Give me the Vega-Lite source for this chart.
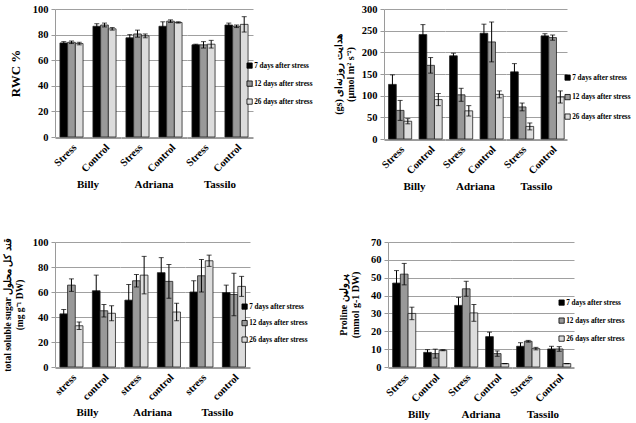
{
  "$schema": "https://vega.github.io/schema/vega-lite/v6.json",
  "padding": {"left": 2, "top": 4, "right": 2, "bottom": 2},
  "background": "white",
  "datasets": {
    "rwc": [
      {"variety": "Billy", "cond": "Stress", "series": "7 days after stress", "v": 73.5, "lo": 72.5, "hi": 74.5},
      {"variety": "Billy", "cond": "Stress", "series": "12 days after stress", "v": 74, "lo": 73, "hi": 75},
      {"variety": "Billy", "cond": "Stress", "series": "26 days after stress", "v": 73, "lo": 72, "hi": 74},
      {"variety": "Billy", "cond": "Control", "series": "7 days after stress", "v": 86.5, "lo": 84.5, "hi": 88.5},
      {"variety": "Billy", "cond": "Control", "series": "12 days after stress", "v": 87.5, "lo": 86, "hi": 89},
      {"variety": "Billy", "cond": "Control", "series": "26 days after stress", "v": 84.5, "lo": 83.5, "hi": 85.5},
      {"variety": "Adriana", "cond": "Stress", "series": "7 days after stress", "v": 77.5, "lo": 75, "hi": 80},
      {"variety": "Adriana", "cond": "Stress", "series": "12 days after stress", "v": 80.5, "lo": 78, "hi": 83.5},
      {"variety": "Adriana", "cond": "Stress", "series": "26 days after stress", "v": 79, "lo": 77.5, "hi": 80.5},
      {"variety": "Adriana", "cond": "Control", "series": "7 days after stress", "v": 86.5, "lo": 83, "hi": 90},
      {"variety": "Adriana", "cond": "Control", "series": "12 days after stress", "v": 90.5, "lo": 89.5, "hi": 91.5},
      {"variety": "Adriana", "cond": "Control", "series": "26 days after stress", "v": 89.5, "lo": 89, "hi": 90},
      {"variety": "Tassilo", "cond": "Stress", "series": "7 days after stress", "v": 72, "lo": 71.5, "hi": 72.5},
      {"variety": "Tassilo", "cond": "Stress", "series": "12 days after stress", "v": 72, "lo": 69.5, "hi": 74.5},
      {"variety": "Tassilo", "cond": "Stress", "series": "26 days after stress", "v": 72.5, "lo": 69.5, "hi": 75.5},
      {"variety": "Tassilo", "cond": "Control", "series": "7 days after stress", "v": 87.5, "lo": 86, "hi": 89},
      {"variety": "Tassilo", "cond": "Control", "series": "12 days after stress", "v": 86.5, "lo": 85.5, "hi": 87.5},
      {"variety": "Tassilo", "cond": "Control", "series": "26 days after stress", "v": 88, "lo": 82, "hi": 94}
    ],
    "gs": [
      {"variety": "Billy", "cond": "Stress", "series": "7 days after stress", "v": 126, "lo": 104, "hi": 148},
      {"variety": "Billy", "cond": "Stress", "series": "12 days after stress", "v": 66, "lo": 43, "hi": 89},
      {"variety": "Billy", "cond": "Stress", "series": "26 days after stress", "v": 41, "lo": 35, "hi": 47},
      {"variety": "Billy", "cond": "Control", "series": "7 days after stress", "v": 241, "lo": 218, "hi": 264},
      {"variety": "Billy", "cond": "Control", "series": "12 days after stress", "v": 170, "lo": 152, "hi": 188},
      {"variety": "Billy", "cond": "Control", "series": "26 days after stress", "v": 91, "lo": 77, "hi": 105},
      {"variety": "Adriana", "cond": "Stress", "series": "7 days after stress", "v": 192, "lo": 186, "hi": 198},
      {"variety": "Adriana", "cond": "Stress", "series": "12 days after stress", "v": 102, "lo": 87, "hi": 117},
      {"variety": "Adriana", "cond": "Stress", "series": "26 days after stress", "v": 65, "lo": 53, "hi": 77},
      {"variety": "Adriana", "cond": "Control", "series": "7 days after stress", "v": 244, "lo": 223, "hi": 265},
      {"variety": "Adriana", "cond": "Control", "series": "12 days after stress", "v": 224, "lo": 178, "hi": 270},
      {"variety": "Adriana", "cond": "Control", "series": "26 days after stress", "v": 103, "lo": 95, "hi": 111},
      {"variety": "Tassilo", "cond": "Stress", "series": "7 days after stress", "v": 155, "lo": 136, "hi": 174},
      {"variety": "Tassilo", "cond": "Stress", "series": "12 days after stress", "v": 74, "lo": 65, "hi": 83},
      {"variety": "Tassilo", "cond": "Stress", "series": "26 days after stress", "v": 29, "lo": 21, "hi": 37},
      {"variety": "Tassilo", "cond": "Control", "series": "7 days after stress", "v": 238, "lo": 233, "hi": 243},
      {"variety": "Tassilo", "cond": "Control", "series": "12 days after stress", "v": 234, "lo": 228, "hi": 240},
      {"variety": "Tassilo", "cond": "Control", "series": "26 days after stress", "v": 97, "lo": 83, "hi": 111}
    ],
    "tss": [
      {"variety": "Billy", "cond": "stress", "series": "7 days after stress", "v": 42.5, "lo": 39, "hi": 46},
      {"variety": "Billy", "cond": "stress", "series": "12 days after stress", "v": 65.5, "lo": 60.5, "hi": 70.5},
      {"variety": "Billy", "cond": "stress", "series": "26 days after stress", "v": 33, "lo": 30, "hi": 36},
      {"variety": "Billy", "cond": "control", "series": "7 days after stress", "v": 61, "lo": 48.5, "hi": 73.5},
      {"variety": "Billy", "cond": "control", "series": "12 days after stress", "v": 45, "lo": 40, "hi": 50},
      {"variety": "Billy", "cond": "control", "series": "26 days after stress", "v": 43, "lo": 37, "hi": 49},
      {"variety": "Adriana", "cond": "stress", "series": "7 days after stress", "v": 53.5, "lo": 41, "hi": 66},
      {"variety": "Adriana", "cond": "stress", "series": "12 days after stress", "v": 69, "lo": 64, "hi": 74},
      {"variety": "Adriana", "cond": "stress", "series": "26 days after stress", "v": 73.5, "lo": 58.5, "hi": 88.5},
      {"variety": "Adriana", "cond": "control", "series": "7 days after stress", "v": 75.5, "lo": 63.5, "hi": 87.5},
      {"variety": "Adriana", "cond": "control", "series": "12 days after stress", "v": 68.5, "lo": 55, "hi": 82},
      {"variety": "Adriana", "cond": "control", "series": "26 days after stress", "v": 44, "lo": 37, "hi": 51},
      {"variety": "Tassilo", "cond": "stress", "series": "7 days after stress", "v": 60, "lo": 51, "hi": 69},
      {"variety": "Tassilo", "cond": "stress", "series": "12 days after stress", "v": 73, "lo": 60, "hi": 86},
      {"variety": "Tassilo", "cond": "stress", "series": "26 days after stress", "v": 85, "lo": 80.5, "hi": 89.5},
      {"variety": "Tassilo", "cond": "control", "series": "7 days after stress", "v": 59.5, "lo": 53.5, "hi": 65.5},
      {"variety": "Tassilo", "cond": "control", "series": "12 days after stress", "v": 58, "lo": 41, "hi": 75},
      {"variety": "Tassilo", "cond": "control", "series": "26 days after stress", "v": 64.5, "lo": 56.5, "hi": 72.5}
    ],
    "pro": [
      {"variety": "Billy", "cond": "Stress", "series": "7 days after stress", "v": 47, "lo": 40, "hi": 54},
      {"variety": "Billy", "cond": "Stress", "series": "12 days after stress", "v": 52, "lo": 46, "hi": 58},
      {"variety": "Billy", "cond": "Stress", "series": "26 days after stress", "v": 30, "lo": 26.5, "hi": 33.5},
      {"variety": "Billy", "cond": "Control", "series": "7 days after stress", "v": 8.2, "lo": 6.7, "hi": 9.7},
      {"variety": "Billy", "cond": "Control", "series": "12 days after stress", "v": 7.5, "lo": 5, "hi": 10},
      {"variety": "Billy", "cond": "Control", "series": "26 days after stress", "v": 9.4, "lo": 9.1, "hi": 9.7},
      {"variety": "Adriana", "cond": "Stress", "series": "7 days after stress", "v": 34.5, "lo": 30, "hi": 39},
      {"variety": "Adriana", "cond": "Stress", "series": "12 days after stress", "v": 43.8, "lo": 39.6, "hi": 48},
      {"variety": "Adriana", "cond": "Stress", "series": "26 days after stress", "v": 30.3, "lo": 25.6, "hi": 35},
      {"variety": "Adriana", "cond": "Control", "series": "7 days after stress", "v": 17, "lo": 14.5, "hi": 19.5},
      {"variety": "Adriana", "cond": "Control", "series": "12 days after stress", "v": 7.5, "lo": 6, "hi": 9},
      {"variety": "Adriana", "cond": "Control", "series": "26 days after stress", "v": 1.9, "lo": 1.9, "hi": 1.9},
      {"variety": "Tassilo", "cond": "Stress", "series": "7 days after stress", "v": 11.6, "lo": 9.6, "hi": 13.6},
      {"variety": "Tassilo", "cond": "Stress", "series": "12 days after stress", "v": 14.4, "lo": 13.9, "hi": 14.9},
      {"variety": "Tassilo", "cond": "Stress", "series": "26 days after stress", "v": 10.3, "lo": 9.6, "hi": 11},
      {"variety": "Tassilo", "cond": "Control", "series": "7 days after stress", "v": 10.1, "lo": 8.6, "hi": 11.6},
      {"variety": "Tassilo", "cond": "Control", "series": "12 days after stress", "v": 10.1, "lo": 8.8, "hi": 11.4},
      {"variety": "Tassilo", "cond": "Control", "series": "26 days after stress", "v": 1.9, "lo": 1.9, "hi": 1.9}
    ]
  },
  "config": {
    "font": "Liberation Serif",
    "view": {"stroke": null},
    "axis": {
      "labelFont": "Liberation Serif", "labelFontWeight": "bold", "labelFontSize": 10.5, "labelColor": "#000",
      "titleFont": "Liberation Serif", "titleFontWeight": "bold", "titleColor": "#000",
      "domainColor": "#9a9a9a", "gridColor": "#a0a0a0", "tickColor": "#9a9a9a"
    },
    "axisX": {"labelAngle": -45, "ticks": false, "labelPadding": 4, "domainColor": "#9a9a9a"},
    "axisY": {"tickSize": 4, "labelPadding": 3},
    "header": {"labelFont": "Liberation Serif", "labelFontWeight": "bold", "labelFontSize": 11, "labelColor": "#000"},
    "legend": {
      "symbolType": "square", "symbolSize": 28, "symbolStrokeColor": "#000", "symbolStrokeWidth": 1,
      "labelFont": "Liberation Serif", "labelFontWeight": "bold", "labelFontSize": 7.2, "labelColor": "#000",
      "labelOffset": 1, "symbolOpacity": 1
    },
    "bar": {"stroke": "#222", "strokeWidth": 0.8}
  },
  "resolve": {"scale": {"color": "independent"}, "legend": {"color": "independent"}},
  "spacing": 43,
  "vconcat": [
    {
      "hconcat": [
        {
          "data": {"name": "rwc"},
          "facet": {"column": {"field": "variety", "type": "nominal", "sort": ["Billy", "Adriana", "Tassilo"], "header": {"title": null, "labelOrient": "bottom", "labelPadding": 5}}},
          "spacing": 0,
          "spec": {
            "width": 66, "height": 128,
            "encoding": {
              "x": {"field": "cond", "type": "nominal", "sort": ["Stress", "Control"], "title": null, "scale": {"paddingInner": 0.3, "paddingOuter": 0.15}},
              "xOffset": {"field": "series", "type": "nominal", "sort": ["7 days after stress", "12 days after stress", "26 days after stress"], "scale": {"paddingInner": 0, "paddingOuter": 0}}
            },
            "layer": [
              {"mark": {"type": "bar"}, "encoding": {
                "y": {"field": "v", "type": "quantitative", "title": "RWC %", "scale": {"domain": [0, 100]}, "axis": {"values": [0, 20, 40, 60, 80, 100], "titleFontSize": 13, "titlePadding": 10}},
                "color": {"field": "series", "type": "nominal", "sort": ["7 days after stress", "12 days after stress", "26 days after stress"], "scale": {"range": ["#000000", "#999999", "#dcdcdc"]}, "legend": {"title": null, "orient": "none", "legendX": 191, "legendY": 53, "rowPadding": 9}}
              }},
              {"mark": {"type": "rule", "color": "#000", "strokeWidth": 1}, "encoding": {"y": {"field": "lo", "type": "quantitative", "title": "RWC %", "axis": {"values": [0, 20, 40, 60, 80, 100], "titleFontSize": 13, "titlePadding": 10}}, "y2": {"field": "hi"}}},
              {"mark": {"type": "tick", "color": "#000", "size": 5, "thickness": 1}, "encoding": {"y": {"field": "hi", "type": "quantitative", "title": "RWC %", "axis": {"values": [0, 20, 40, 60, 80, 100], "titleFontSize": 13, "titlePadding": 10}}}},
              {"mark": {"type": "tick", "color": "#000", "size": 5, "thickness": 1}, "encoding": {"y": {"field": "lo", "type": "quantitative", "title": "RWC %", "axis": {"values": [0, 20, 40, 60, 80, 100], "titleFontSize": 13, "titlePadding": 10}}}}
            ]
          }
        },
        {
          "data": {"name": "gs"},
          "facet": {"column": {"field": "variety", "type": "nominal", "sort": ["Billy", "Adriana", "Tassilo"], "header": {"title": null, "labelOrient": "bottom", "labelPadding": 5}}},
          "spacing": 0,
          "spec": {
            "width": 61, "height": 130,
            "encoding": {
              "x": {"field": "cond", "type": "nominal", "sort": ["Stress", "Control"], "title": null, "scale": {"paddingInner": 0.3, "paddingOuter": 0.15}},
              "xOffset": {"field": "series", "type": "nominal", "sort": ["7 days after stress", "12 days after stress", "26 days after stress"], "scale": {"paddingInner": 0, "paddingOuter": 0}}
            },
            "layer": [
              {"mark": {"type": "bar"}, "encoding": {
                "y": {"field": "v", "type": "quantitative", "title": ["(gs) هدایت روزنه‌ای", "(µmol m² s⁻²)"], "scale": {"domain": [0, 300]}, "axis": {"values": [0, 50, 100, 150, 200, 250, 300], "titleFontSize": 10, "titlePadding": 6}},
                "color": {"field": "series", "type": "nominal", "sort": ["7 days after stress", "12 days after stress", "26 days after stress"], "scale": {"range": ["#000000", "#999999", "#dcdcdc"]}, "legend": {"title": null, "orient": "none", "legendX": 180, "legendY": 65, "rowPadding": 10.5}}
              }},
              {"mark": {"type": "rule", "color": "#000", "strokeWidth": 1}, "encoding": {"y": {"field": "lo", "type": "quantitative", "title": ["(gs) هدایت روزنه‌ای", "(µmol m² s⁻²)"], "axis": {"values": [0, 50, 100, 150, 200, 250, 300], "titleFontSize": 10, "titlePadding": 6}}, "y2": {"field": "hi"}}},
              {"mark": {"type": "tick", "color": "#000", "size": 5, "thickness": 1}, "encoding": {"y": {"field": "hi", "type": "quantitative", "title": ["(gs) هدایت روزنه‌ای", "(µmol m² s⁻²)"], "axis": {"values": [0, 50, 100, 150, 200, 250, 300], "titleFontSize": 10, "titlePadding": 6}}}},
              {"mark": {"type": "tick", "color": "#000", "size": 5, "thickness": 1}, "encoding": {"y": {"field": "lo", "type": "quantitative", "title": ["(gs) هدایت روزنه‌ای", "(µmol m² s⁻²)"], "axis": {"values": [0, 50, 100, 150, 200, 250, 300], "titleFontSize": 10, "titlePadding": 6}}}}
            ]
          }
        }
      ],
      "spacing": 20,
      "resolve": {"scale": {"color": "independent"}, "legend": {"color": "independent"}}
    },
    {
      "hconcat": [
        {
          "data": {"name": "tss"},
          "facet": {"column": {"field": "variety", "type": "nominal", "sort": ["Billy", "Adriana", "Tassilo"], "header": {"title": null, "labelOrient": "bottom", "labelPadding": 5}}},
          "spacing": 0,
          "spec": {
            "width": 65, "height": 125,
            "encoding": {
              "x": {"field": "cond", "type": "nominal", "sort": ["stress", "control"], "title": null, "scale": {"paddingInner": 0.3, "paddingOuter": 0.15}},
              "xOffset": {"field": "series", "type": "nominal", "sort": ["7 days after stress", "12 days after stress", "26 days after stress"], "scale": {"paddingInner": 0, "paddingOuter": 0}}
            },
            "layer": [
              {"mark": {"type": "bar"}, "encoding": {
                "y": {"field": "v", "type": "quantitative", "title": ["total soluble sugar  قند کل محلول", "(mg g⁻¹ DW)"], "scale": {"domain": [0, 100]}, "axis": {"values": [0, 20, 40, 60, 80, 100], "titleFontSize": 9.5, "titlePadding": 8}},
                "color": {"field": "series", "type": "nominal", "sort": ["7 days after stress", "12 days after stress", "26 days after stress"], "scale": {"range": ["#000000", "#999999", "#dcdcdc"]}, "legend": {"title": null, "orient": "none", "legendX": 186, "legendY": 61, "rowPadding": 7.5}}
              }},
              {"mark": {"type": "rule", "color": "#000", "strokeWidth": 1}, "encoding": {"y": {"field": "lo", "type": "quantitative", "title": ["total soluble sugar  قند کل محلول", "(mg g⁻¹ DW)"], "axis": {"values": [0, 20, 40, 60, 80, 100], "titleFontSize": 9.5, "titlePadding": 8}}, "y2": {"field": "hi"}}},
              {"mark": {"type": "tick", "color": "#000", "size": 5, "thickness": 1}, "encoding": {"y": {"field": "hi", "type": "quantitative", "title": ["total soluble sugar  قند کل محلول", "(mg g⁻¹ DW)"], "axis": {"values": [0, 20, 40, 60, 80, 100], "titleFontSize": 9.5, "titlePadding": 8}}}},
              {"mark": {"type": "tick", "color": "#000", "size": 5, "thickness": 1}, "encoding": {"y": {"field": "lo", "type": "quantitative", "title": ["total soluble sugar  قند کل محلول", "(mg g⁻¹ DW)"], "axis": {"values": [0, 20, 40, 60, 80, 100], "titleFontSize": 9.5, "titlePadding": 8}}}}
            ]
          }
        },
        {
          "data": {"name": "pro"},
          "facet": {"column": {"field": "variety", "type": "nominal", "sort": ["Billy", "Adriana", "Tassilo"], "header": {"title": null, "labelOrient": "bottom", "labelPadding": 5}}},
          "spacing": 0,
          "spec": {
            "width": 62, "height": 125,
            "encoding": {
              "x": {"field": "cond", "type": "nominal", "sort": ["Stress", "Control"], "title": null, "scale": {"paddingInner": 0.3, "paddingOuter": 0.15}},
              "xOffset": {"field": "series", "type": "nominal", "sort": ["7 days after stress", "12 days after stress", "26 days after stress"], "scale": {"paddingInner": 0, "paddingOuter": 0}}
            },
            "layer": [
              {"mark": {"type": "bar"}, "encoding": {
                "y": {"field": "v", "type": "quantitative", "title": ["Proline          پرولین", "(mmol g-1 DW)"], "scale": {"domain": [0, 70]}, "axis": {"values": [0, 10, 20, 30, 40, 50, 60, 70], "titleFontSize": 10, "titlePadding": 10}},
                "color": {"field": "series", "type": "nominal", "sort": ["7 days after stress", "12 days after stress", "26 days after stress"], "scale": {"range": ["#000000", "#999999", "#dcdcdc"]}, "legend": {"title": null, "orient": "none", "legendX": 170, "legendY": 57, "rowPadding": 9}}
              }},
              {"mark": {"type": "rule", "color": "#000", "strokeWidth": 1}, "encoding": {"y": {"field": "lo", "type": "quantitative", "title": ["Proline          پرولین", "(mmol g-1 DW)"], "axis": {"values": [0, 10, 20, 30, 40, 50, 60, 70], "titleFontSize": 10, "titlePadding": 10}}, "y2": {"field": "hi"}}},
              {"mark": {"type": "tick", "color": "#000", "size": 5, "thickness": 1}, "encoding": {"y": {"field": "hi", "type": "quantitative", "title": ["Proline          پرولین", "(mmol g-1 DW)"], "axis": {"values": [0, 10, 20, 30, 40, 50, 60, 70], "titleFontSize": 10, "titlePadding": 10}}}},
              {"mark": {"type": "tick", "color": "#000", "size": 5, "thickness": 1}, "encoding": {"y": {"field": "lo", "type": "quantitative", "title": ["Proline          پرولین", "(mmol g-1 DW)"], "axis": {"values": [0, 10, 20, 30, 40, 50, 60, 70], "titleFontSize": 10, "titlePadding": 10}}}}
            ]
          }
        }
      ],
      "spacing": 30,
      "resolve": {"scale": {"color": "independent"}, "legend": {"color": "independent"}}
    }
  ]
}
